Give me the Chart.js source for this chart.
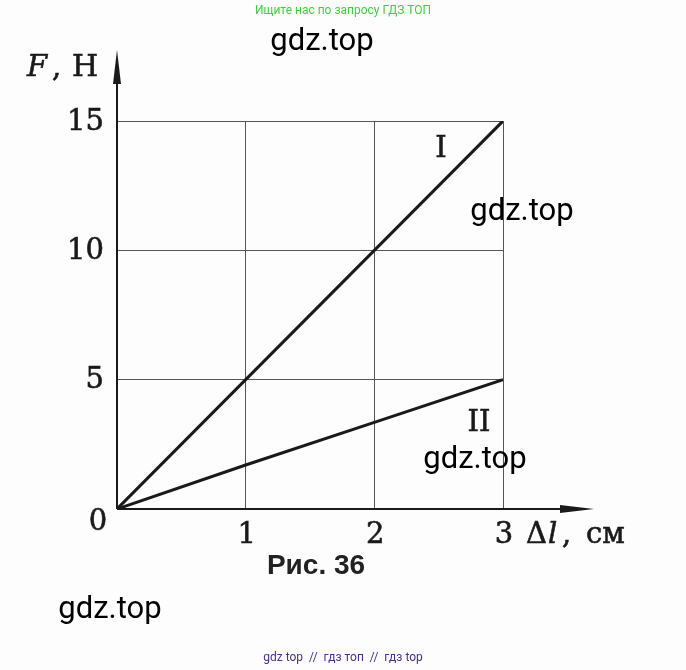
<!DOCTYPE html>
<html>
<head>
<meta charset="utf-8">
<script src="https://cdn.jsdelivr.net/npm/chart.js@4/dist/chart.umd.min.js"></script>
<style>
  html, body { margin: 0; padding: 0; background: #fdfdfd; }
  #wrap { position: relative; width: 686px; height: 670px; }
</style>
</head>
<body>
<div id="wrap"><canvas id="springChart" width="686" height="670"></canvas></div>
<script>
// elongation, cm
const elongation = [0, 1, 2, 3];
// force for spring I and spring II, N
const forceI = [0, 5, 10, 15];
const forceII = [0, 1.7, 3.35, 5];
const xTicks = [1, 2, 3];
const yTicks = [5, 10, 15];
const lineNames = ['I', 'II'];

const serif = '"DejaVu Serif", "Liberation Serif", serif';

// text with a thin outline so it looks as heavy as the printed book font
function heavyText(ctx, text, x, y) {
    ctx.fillText(text, x, y);
    ctx.strokeText(text, x, y);
}

const axesPlugin = {
    id: 'axesPlugin',
    afterDraw(chart) {
        const ctx = chart.ctx;
        const xs = chart.scales.x;
        const ys = chart.scales.y;
        const x0 = xs.getPixelForValue(0);
        const y0 = ys.getPixelForValue(0);
        ctx.save();
        ctx.fillStyle = '#1a1a1a';
        ctx.strokeStyle = '#1a1a1a';
        ctx.lineWidth = 2;

        //axes
        ctx.beginPath();
        ctx.moveTo(x0, y0);
        ctx.lineTo(x0, 60);
        ctx.moveTo(x0, y0);
        ctx.lineTo(585, y0);
        ctx.stroke();
        //arrow heads
        ctx.beginPath();
        ctx.moveTo(x0, 50);
        ctx.lineTo(x0 - 4, 84);
        ctx.lineTo(x0 + 4, 84);
        ctx.closePath();
        ctx.fill();
        ctx.beginPath();
        ctx.moveTo(594, y0);
        ctx.lineTo(560, y0 - 4);
        ctx.lineTo(560, y0 + 4);
        ctx.closePath();
        ctx.fill();

        ctx.lineWidth = 0.6;
        //tick labels
        ctx.font = '29px ' + serif;
        ctx.textBaseline = 'middle';
        ctx.textAlign = 'right';
        yTicks.forEach(v => heavyText(ctx, String(v), 104, ys.getPixelForValue(v) + 1));
        ctx.textAlign = 'center';
        xTicks.forEach(v => heavyText(ctx, String(v), xs.getPixelForValue(v) + 1, 535));
        heavyText(ctx, '0', 98, 522);

        //axis titles
        ctx.textAlign = 'left';
        ctx.textBaseline = 'alphabetic';
        ctx.font = 'italic 29px ' + serif;
        heavyText(ctx, 'F', 27, 76);
        ctx.font = '29px ' + serif;
        heavyText(ctx, ',', 52, 76);
        ctx.font = '30px ' + serif;
        heavyText(ctx, 'Н', 72, 76);

        ctx.font = '29px ' + serif;
        heavyText(ctx, 'Δ', 526, 543);
        ctx.font = 'italic 29px ' + serif;
        heavyText(ctx, 'l', 548, 543);
        ctx.font = '29px ' + serif;
        heavyText(ctx, ',', 562, 543);
        heavyText(ctx, 'см', 586, 543);

        //line names
        ctx.font = '29px ' + serif;
        ctx.textAlign = 'center';
        ctx.textBaseline = 'middle';
        heavyText(ctx, lineNames[0], 441, 149);
        heavyText(ctx, lineNames[1], 479, 423);

        //caption
        ctx.font = 'bold 28px "Liberation Sans", Arial, sans-serif';
        ctx.fillStyle = '#222';
        ctx.fillText('Рис. 36', 316, 566);

        //watermarks
        ctx.fillStyle = '#000';
        ctx.font = '31px Roboto, sans-serif';
        [[322, 42], [522, 212], [475, 460], [110, 610]].forEach(p => ctx.fillText('gdz.top', p[0], p[1]));
        ctx.font = '12px Roboto, sans-serif';
        ctx.fillStyle = '#3fcf3f';
        ctx.fillText('Ищите нас по запросу ГДЗ ТОП', 343, 11);
        ctx.fillStyle = '#4a2c8c';
        ctx.fillText('gdz top  //  гдз топ  //  гдз top', 343, 658);
        ctx.restore();
    }
};

function buildChart() {
    const ctx = document.getElementById('springChart').getContext('2d');
    new Chart(ctx, {
        type: 'line',
        data: {
            labels: elongation,
            datasets: [
                { label: lineNames[0], data: elongation.map((x, i) => ({ x: x, y: forceI[i] })) },
                { label: lineNames[1], data: elongation.map((x, i) => ({ x: x, y: forceII[i] })) }
            ]
        },
        options: {
            responsive: false,
            animation: false,
            events: [],
            layout: { padding: { left: 117, right: 183, top: 121, bottom: 161 } },
            elements: {
                line: { borderColor: '#1a1a1a', borderWidth: 3, tension: 0 },
                point: { radius: 0 }
            },
            plugins: {
                legend: { display: false },
                title: { display: false },
                tooltip: { enabled: false }
            },
            scales: {
                x: {
                    type: 'linear',
                    min: 0,
                    max: 3,
                    ticks: { display: false, stepSize: 1 },
                    grid: { color: '#555', lineWidth: 1, drawTicks: false },
                    border: { display: false }
                },
                y: {
                    min: 0,
                    max: 15,
                    ticks: { display: false, stepSize: 5 },
                    grid: { color: '#555', lineWidth: 1, drawTicks: false },
                    border: { display: false }
                }
            }
        },
        plugins: [axesPlugin]
    });
}

document.addEventListener('DOMContentLoaded', buildChart);
</script>
</body>
</html>
